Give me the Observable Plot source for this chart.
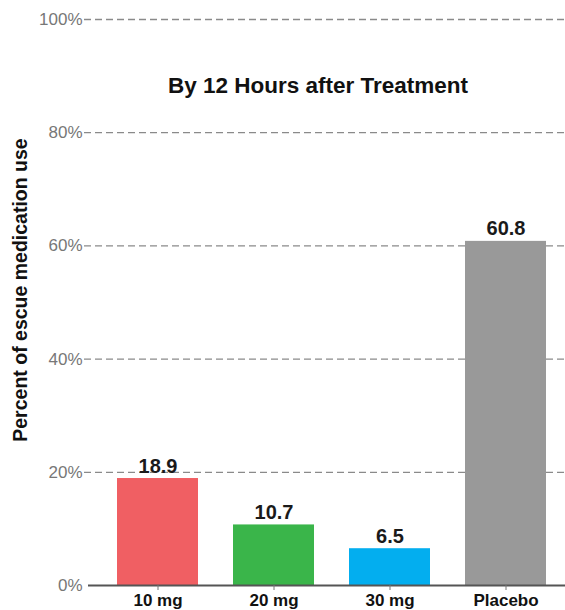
<!DOCTYPE html>
<html><head><meta charset="utf-8">
<script src="https://cdn.jsdelivr.net/npm/d3@7"></script>
<script src="https://cdn.jsdelivr.net/npm/@observablehq/plot@0.6"></script>
<style>
body{margin:0;background:#fff;font-family:"Liberation Sans",Arial,sans-serif;}
#wrap{position:relative;width:565px;height:610px;}
#ylab{position:absolute;left:21px;top:290px;transform:translate(-50%,-50%) rotate(-90deg);white-space:nowrap;font-weight:bold;font-size:19.5px;line-height:1;color:#111;}
</style>
</head><body>
<div id="wrap"><div id="ylab">Percent of escue medication use</div></div>
<script>
const doses = ["10 mg", "20 mg", "30 mg", "Placebo"];
const values = [18.9, 10.7, 6.5, 60.8];
const colors = ["#f05f63", "#3ab54a", "#03aeef", "#999999"];
const yTicks = [0, 20, 40, 60, 80, 100];
const title = "By 12 Hours after Treatment";

const data = doses.map((d, i) => ({dose: d, value: values[i]}));

const chart = Plot.plot({
  width: 565,
  height: 610,
  marginLeft: 100,
  marginRight: 1,
  marginTop: 19,
  marginBottom: 25,
  style: {fontFamily: "Liberation Sans, Arial, sans-serif", overflow: "visible"},
  x: {domain: doses, paddingInner: 0.3, paddingOuter: 0.15, label: null},
  y: {domain: [0, 100], label: null},
  color: {domain: doses, range: colors},
  marks: [
    Plot.ruleY(yTicks.filter(t => t > 0), {stroke: "#8a8a8a", strokeWidth: 1.3, strokeDasharray: "7,4", insetLeft: -16, insetRight: -1}),
    Plot.barY(data, {x: "dose", y: "value", fill: "dose"}),
    Plot.text(data, {x: "dose", y: "value", text: d => d.value.toFixed(1), lineAnchor: "bottom", dy: -6, fontWeight: "bold", fontSize: 20, fill: "#1a1a1a"}),
    Plot.text([title], {frameAnchor: "top", dx: -14.5, dy: 58, fontWeight: "bold", fontSize: 22.5, fill: "#111"}),
    Plot.ruleY([0], {stroke: "#555", strokeWidth: 2, insetLeft: -12, insetRight: -1}),
    Plot.axisY({ticks: yTicks, tickSize: 0, tickPadding: 18, tickFormat: d => d + "%", fontSize: 17, fill: "#777", color: "#777"}),
    Plot.axisX({tickSize: 5, tickPadding: 3, stroke: "#777", fontSize: 17, fontWeight: "bold", fill: "#111", color: "#111"})
  ]
});
document.getElementById("wrap").prepend(chart);
</script>
</body></html>
